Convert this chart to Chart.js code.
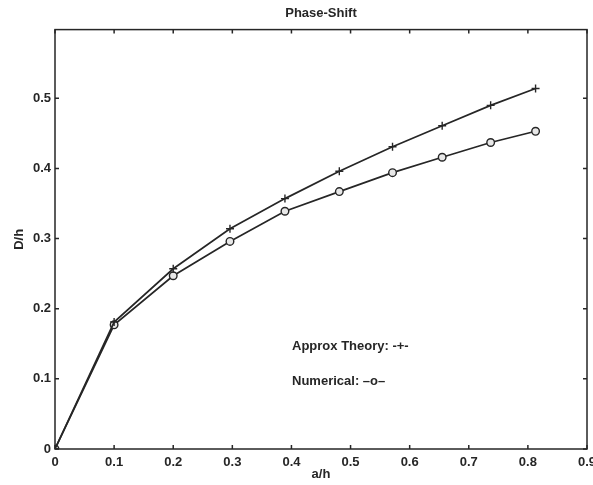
<!DOCTYPE html>
<html>
<head>
<meta charset="UTF-8">
<title>Phase-Shift</title>
<script src="https://cdn.jsdelivr.net/npm/chart.js"></script>
<style>
    html, body { margin: 0; padding: 0; background: #fff; }
    #wrap { width: 593px; height: 485px; }
</style>
</head>
<body>
<div id="wrap"><canvas id="grafico" width="593" height="485"></canvas></div>
<script>
    // a/h sample positions (shared by both curves)
    const aSobreH = [0, 0.1, 0.2, 0.296, 0.389, 0.481, 0.571, 0.655, 0.737, 0.813];
    // D/h values
    const teoriaAprox = [0, 0.181, 0.257, 0.314, 0.357, 0.396, 0.431, 0.461, 0.490, 0.514];
    const numerico = [0, 0.177, 0.247, 0.296, 0.339, 0.367, 0.394, 0.416, 0.437, 0.453];

    const xTicks = [0, 0.1, 0.2, 0.3, 0.4, 0.5, 0.6, 0.7, 0.8, 0.9];
    const yTicks = [0, 0.1, 0.2, 0.3, 0.4, 0.5];

    const legendaTexto = ['Approx Theory: -+-', 'Numerical: \u2013o\u2013'];

    const corTinta = '#262626';
    const fonte = "'Liberation Sans', Arial, sans-serif";

    function pontos(xs, ys) {
        return xs.map((x, i) => ({ x: x, y: ys[i] }));
    }

    // box + inward ticks on all four sides, plus the text legend
    const moldura = {
        id: 'moldura',
        afterDraw(chart) {
            const { ctx, chartArea: a, scales } = chart;
            const tl = 4;
            ctx.save();
            ctx.strokeStyle = corTinta;
            ctx.lineWidth = 1.5;
            ctx.strokeRect(a.left, a.top, a.right - a.left, a.bottom - a.top);
            ctx.beginPath();
            xTicks.forEach(v => {
                const px = scales.x.getPixelForValue(v);
                ctx.moveTo(px, a.bottom); ctx.lineTo(px, a.bottom - tl);
                ctx.moveTo(px, a.top); ctx.lineTo(px, a.top + tl);
            });
            yTicks.forEach(v => {
                const py = scales.y.getPixelForValue(v);
                ctx.moveTo(a.left, py); ctx.lineTo(a.left + tl, py);
                ctx.moveTo(a.right, py); ctx.lineTo(a.right - tl, py);
            });
            ctx.stroke();

            ctx.fillStyle = corTinta;
            ctx.font = 'bold 13px ' + fonte;
            ctx.textBaseline = 'middle';
            ctx.textAlign = 'left';
            const lx = scales.x.getPixelForValue(0.401);
            ctx.fillText(legendaTexto[0], lx, scales.y.getPixelForValue(0.146));
            ctx.fillText(legendaTexto[1], lx, scales.y.getPixelForValue(0.096));
            ctx.restore();
        }
    };

    new Chart(document.getElementById('grafico'), {
        type: 'line',
        data: {
            datasets: [
                {
                    label: 'Approx Theory',
                    data: pontos(aSobreH, teoriaAprox),
                    borderColor: corTinta,
                    borderWidth: 1.7,
                    pointStyle: 'cross',
                    pointRadius: 4,
                    pointBorderWidth: 1.4,
                    pointBorderColor: corTinta,
                    tension: 0
                },
                {
                    label: 'Numerical',
                    data: pontos(aSobreH, numerico),
                    borderColor: corTinta,
                    borderWidth: 1.7,
                    pointStyle: 'circle',
                    pointRadius: 3.8,
                    pointBorderWidth: 1.4,
                    pointBorderColor: corTinta,
                    pointBackgroundColor: '#e8e8e8',
                    tension: 0
                }
            ]
        },
        options: {
            responsive: false,
            animation: false,
            layout: { padding: { left: 0, right: 6, top: 0, bottom: 0 } },
            plugins: {
                legend: { display: false },
                tooltip: { enabled: false },
                title: {
                    display: true,
                    text: 'Phase-Shift',
                    fullSize: false,
                    color: corTinta,
                    font: { family: fonte, size: 13, weight: 'bold' },
                    padding: { top: 6, bottom: 8 }
                }
            },
            scales: {
                x: {
                    type: 'linear',
                    min: 0,
                    max: 0.9,
                    afterBuildTicks: s => { s.ticks = xTicks.map(v => ({ value: v })); },
                    afterFit: s => { s.paddingLeft = 0; s.paddingRight = 0; s.height = 36; },
                    grid: { display: false, drawTicks: false },
                    border: { display: false },
                    ticks: {
                        color: corTinta,
                        padding: 6,
                        maxRotation: 0,
                        autoSkip: false,
                        font: { family: fonte, size: 13, weight: 'bold' },
                        callback: v => v === 0 ? '0' : v.toFixed(1)
                    },
                    title: {
                        display: true,
                        text: 'a/h',
                        color: corTinta,
                        font: { family: fonte, size: 13, weight: 'bold' },
                        padding: { top: 0, bottom: 3 }
                    }
                },
                y: {
                    type: 'linear',
                    min: 0,
                    max: 0.598,
                    afterBuildTicks: s => { s.ticks = yTicks.map(v => ({ value: v })); },
                    afterFit: s => { s.paddingTop = 0; s.paddingBottom = 0; s.width = 55; },
                    grid: { display: false, drawTicks: false },
                    border: { display: false },
                    ticks: {
                        color: corTinta,
                        padding: 4,
                        autoSkip: false,
                        font: { family: fonte, size: 13, weight: 'bold' },
                        callback: v => v === 0 ? '0' : v.toFixed(1)
                    },
                    title: {
                        display: true,
                        text: 'D/h',
                        color: corTinta,
                        font: { family: fonte, size: 13, weight: 'bold' },
                        padding: { top: 12, bottom: 0 }
                    }
                }
            }
        },
        plugins: [moldura]
    });
</script>
</body>
</html>
